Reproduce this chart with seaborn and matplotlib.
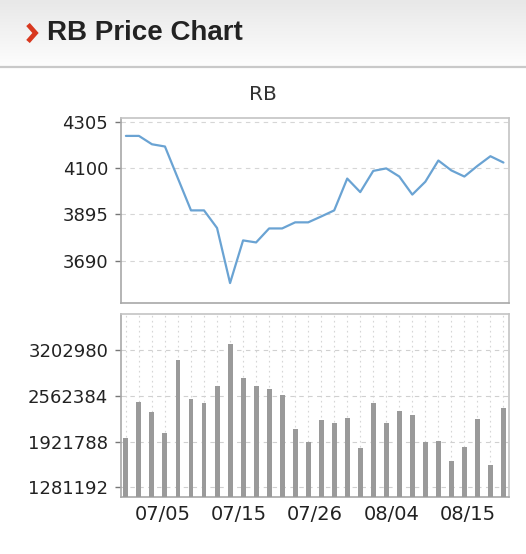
import numpy as np
import pandas as pd
import matplotlib
matplotlib.use("Agg")
import matplotlib.pyplot as plt
from matplotlib.lines import Line2D
import seaborn as sns

# ---------------- data ----------------
price = [4243, 4243, 4206, 4196, 4054, 3913, 3913, 3835, 3591, 3780,
         3771, 3833, 3833, 3860, 3860, 3886, 3913, 4054, 3994, 4088,
         4099, 4063, 3983, 4040, 4134, 4090, 4063, 4110, 4153, 4125]
volume = [1967900, 2484200, 2344700, 2041800, 3064800, 2516300, 2460500,
          2707500, 3293700, 2823400, 2697800, 2660100, 2576300, 2107400,
          1912000, 2227500, 2185600, 2255400, 1836700, 2460500, 2181400,
          2348900, 2293000, 1920400, 1934400, 1646900, 1846400, 2237200,
          1599400, 2400500]
price_ticks = [3690, 3895, 4100, 4305]
volume_ticks = [1281192, 1921788, 2562384, 3202980]
date_labels = ["07/05", "07/15", "07/26", "08/04", "08/15"]
date_label_pos = [2.8, 8.65, 14.5, 20.4, 26.3]
title = "RB Price Chart"
subtitle = "RB"

df = pd.DataFrame({"idx": np.arange(len(price)), "price": price,
                   "volume": volume})

# ---------------- style ----------------
sns.set_theme(style="white")
plt.rcParams["font.family"] = ["DejaVu Sans"]

W, H = 526, 554
fig = plt.figure(figsize=(W / 100, H / 100), dpi=100)
fig.patch.set_facecolor("white")

def fx(px):
    return px / W

def fy(py):
    return 1 - py / H

# header gradient band
hdr = fig.add_axes([0, fy(66), 1, 66 / H], zorder=-5)
grad = np.linspace(0, 1, 100).reshape(-1, 1)
cmap = matplotlib.colors.LinearSegmentedColormap.from_list(
    "hdr", ["#e8e8e8", "#fdfdfd"])
hdr.imshow(grad, aspect="auto", cmap=cmap, extent=[0, 1, 0, 1])
hdr.set_axis_off()
fig.add_artist(Line2D([0, 1], [fy(66.5), fy(66.5)], transform=fig.transFigure,
                      color="#c9c9c9", lw=1.6))
# red chevron
fig.add_artist(Line2D([fx(28), fx(35.5), fx(28)], [fy(24.5), fy(33), fy(41.5)],
                      transform=fig.transFigure, color="#d8381f", lw=3.4,
                      solid_joinstyle="miter", solid_capstyle="butt"))
fig.text(fx(47), fy(33), title, ha="left", va="center", fontsize=20,
         fontweight="bold", family=["Liberation Sans", "DejaVu Sans"],
         color="#222222")
fig.text(fx(263), fy(94.5), subtitle, ha="center", va="center",
         fontsize=14.5, color="#333333")

# axes geometry
left, right = 120.7, 509.3
ax1 = fig.add_axes([fx(left), fy(302.7), (right - left) / W,
                    (302.7 - 118.3) / H])
ax2 = fig.add_axes([fx(left), fy(496.7), (right - left) / W,
                    (496.7 - 314) / H])

xlim = (-0.4, len(price) - 1 + 0.45)

# ---------------- price panel ----------------
sns.lineplot(data=df, x="idx", y="price", ax=ax1, color="#6aa3d3",
             linewidth=1.6, zorder=3)
ax1.set_xlim(*xlim)
ax1.set_ylim(3504, 4321)
ax1.set_yticks(price_ticks)
ax1.set_yticklabels([str(v) for v in price_ticks])
ax1.set_xticks([])
ax1.yaxis.grid(True, color="#d6d6d6", linestyle=(0, (4, 4)), linewidth=0.8)
ax1.xaxis.grid(False)

# ---------------- volume panel ----------------
sns.barplot(data=df, x="idx", y="volume", ax=ax2, color="#9a9a9a",
            width=0.38, saturation=1, zorder=3, linewidth=0)
ax2.set_xlim(*xlim)
ax2.set_ylim(1150000, 3715000)
ax2.set_yticks(volume_ticks)
ax2.set_yticklabels([str(v) for v in volume_ticks])
ax2.set_xticks(np.arange(len(volume)), minor=True)
ax2.set_xticks(date_label_pos)
ax2.set_xticklabels(date_labels)
ax2.yaxis.grid(True, color="#d0d0d0", linestyle=(0, (4, 4)), linewidth=0.8)
ax2.xaxis.grid(True, which="minor", color="#d6d6d6", linestyle=(0, (1.5, 3)),
               linewidth=0.8)
ax2.xaxis.grid(False, which="major")

for ax in (ax1, ax2):
    ax.set_xlabel("")
    ax.set_ylabel("")
    ax.set_facecolor("white")
    for side, sp in ax.spines.items():
        sp.set_visible(True)
        sp.set_linewidth(1.2)
        sp.set_color("#a8a8a8" if side in ("left", "bottom") else "#c4c4c4")
    ax.tick_params(axis="y", which="major", length=4, width=1,
                   color="#777777", pad=5, labelsize=13, labelcolor="#222222",
                   left=True)
    ax.tick_params(axis="x", which="both", length=0, pad=6, labelsize=14,
                   labelcolor="#222222")

fig.savefig("out.png", dpi=100, facecolor="white")
